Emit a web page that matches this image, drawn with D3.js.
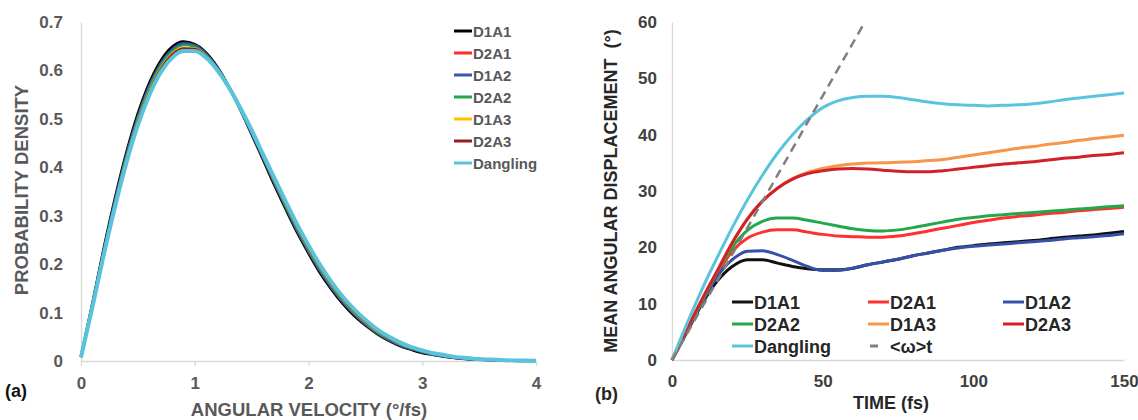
<!DOCTYPE html>
<html>
<head>
<meta charset="utf-8">
<script src="https://cdn.jsdelivr.net/npm/d3@7"></script>
<style>
  html, body { margin: 0; padding: 0; background: #fff; }
  svg { display: block; font-family: Arial, "Liberation Sans", sans-serif; }
</style>
</head>
<body>
<svg id="chart" width="1138" height="420"></svg>
<script>
// ---------- data: panel (a) ----------
var velocity = [0,0.1,0.2,0.3,0.4,0.5,0.6,0.7,0.8,0.9,1,1.1,1.2,1.3,1.4,1.5,1.6,1.7,1.8,1.9,2,
  2.1,2.2,2.3,2.4,2.5,2.6,2.7,2.8,2.9,3,3.1,3.2,3.3,3.4,3.5,3.6,3.7,3.8,3.9,4];

var pd_D1A1 = [0.008,0.117,0.231,0.336,0.430,0.510,0.573,0.619,0.648,0.659,0.654,0.636,0.606,0.566,0.520,0.469,0.417,0.364,0.314,0.266,0.223,
  0.183,0.149,0.119,0.094,0.074,0.057,0.043,0.032,0.024,0.017,0.013,0.009,0.006,0.004,0.003,0.002,0.001,0.001,0.0005,0.0003];
var pd_D2A1 = [0.008,0.116,0.228,0.331,0.424,0.503,0.566,0.612,0.641,0.654,0.651,0.633,0.605,0.566,0.521,0.471,0.420,0.369,0.319,0.271,0.228,
  0.188,0.154,0.124,0.098,0.077,0.059,0.045,0.034,0.025,0.019,0.014,0.010,0.007,0.005,0.003,0.002,0.001,0.001,0.0005,0.0003];
var pd_D1A2 = [0.008,0.116,0.229,0.333,0.426,0.505,0.568,0.614,0.643,0.656,0.652,0.634,0.605,0.566,0.520,0.470,0.419,0.367,0.317,0.269,0.226,
  0.186,0.152,0.122,0.097,0.076,0.058,0.044,0.033,0.025,0.018,0.013,0.009,0.006,0.004,0.003,0.002,0.001,0.001,0.0005,0.0003];
var pd_D2A2 = [0.008,0.115,0.226,0.329,0.422,0.500,0.563,0.610,0.639,0.652,0.649,0.632,0.604,0.566,0.521,0.472,0.421,0.370,0.320,0.273,0.229,
  0.190,0.155,0.125,0.099,0.078,0.060,0.046,0.035,0.026,0.019,0.014,0.010,0.007,0.005,0.003,0.002,0.001,0.001,0.0005,0.0003];
var pd_D1A3 = [0.008,0.114,0.224,0.326,0.418,0.496,0.558,0.605,0.635,0.647,0.646,0.630,0.603,0.566,0.522,0.474,0.423,0.372,0.323,0.276,0.232,
  0.193,0.158,0.128,0.102,0.080,0.062,0.048,0.036,0.027,0.020,0.015,0.011,0.007,0.005,0.003,0.002,0.001,0.001,0.0005,0.0003];
var pd_D2A3 = [0.008,0.114,0.223,0.325,0.416,0.494,0.556,0.603,0.633,0.646,0.645,0.629,0.602,0.565,0.522,0.474,0.424,0.373,0.324,0.277,0.233,
  0.194,0.159,0.129,0.103,0.081,0.063,0.048,0.037,0.027,0.020,0.015,0.011,0.007,0.005,0.003,0.002,0.001,0.001,0.0005,0.0003];
var pd_Dangling = [0.008,0.111,0.219,0.319,0.410,0.487,0.549,0.596,0.626,0.640,0.640,0.626,0.600,0.565,0.523,0.477,0.427,0.378,0.329,0.282,0.239,
  0.199,0.164,0.133,0.107,0.085,0.066,0.051,0.039,0.029,0.022,0.016,0.012,0.008,0.006,0.004,0.003,0.002,0.001,0.001,0.0005];

var pdTicks = [0,0.1,0.2,0.3,0.4,0.5,0.6,0.7];
var pdTickLabels = ["0","0.1","0.2","0.3","0.4","0.5","0.6","0.7"];
var velTicks = [0,1,2,3,4];

// ---------- data: panel (b) ----------
var time = [0,5,10,15,20,25,30,35,40,45,50,55,60,65,70,75,80,85,90,95,100,105,110,115,120,125,130,135,140,145,150];

var ad_D1A1 = [0,5.0,10.0,14.0,16.6,17.8,17.8,17.2,16.6,16.2,16.0,16.0,16.3,16.9,17.4,17.9,18.5,19.0,19.5,20.0,20.3,20.6,20.8,21.0,21.2,21.5,21.8,22.0,22.2,22.5,22.8];
var ad_D2A1 = [0,5.2,10.4,15.3,19.3,21.6,22.7,23.1,23.1,22.7,22.3,22.0,21.9,21.8,21.8,22.0,22.4,22.9,23.4,23.9,24.4,24.8,25.2,25.5,25.7,26.0,26.2,26.5,26.7,26.9,27.1];
var ad_D1A2 = [0,5.1,10.2,14.8,17.8,19.3,19.4,18.7,17.7,16.6,15.9,15.9,16.3,16.9,17.4,17.9,18.5,19.0,19.5,19.9,20.2,20.4,20.6,20.8,21.0,21.2,21.5,21.7,21.9,22.1,22.4];
var ad_D2A2 = [0,5.3,10.5,15.6,20.0,23.0,24.6,25.2,25.2,24.8,24.3,23.8,23.3,23.0,22.9,23.1,23.5,24.0,24.5,25.0,25.3,25.6,25.8,26.0,26.2,26.4,26.6,26.8,27.0,27.2,27.4];
var ad_D1A3 = [0,5.5,10.8,15.8,20.8,25.0,28.2,30.5,32.2,33.3,34.0,34.5,34.8,34.95,35.0,35.1,35.2,35.4,35.6,36.0,36.4,36.8,37.2,37.6,37.9,38.3,38.6,39.0,39.3,39.6,39.9];
var ad_D2A3 = [0,5.5,10.8,15.8,20.8,25.0,28.2,30.5,32.1,33.1,33.6,33.9,34.0,33.9,33.7,33.5,33.4,33.4,33.6,33.9,34.2,34.5,34.8,35.0,35.2,35.5,35.8,36.0,36.3,36.5,36.8];
var ad_Dangling = [0,6.5,12.6,18.2,23.5,28.4,32.8,36.7,40.0,42.7,44.8,46.0,46.6,46.8,46.8,46.6,46.2,45.8,45.5,45.3,45.2,45.1,45.2,45.3,45.5,45.8,46.2,46.5,46.8,47.1,47.4];
var omegaT_time = [0,64];
var omegaT_value = [0,60];

var adTicks = [0,10,20,30,40,50,60];
var timeTicks = [0,50,100,150];

var svg = d3.select("#chart");

// ================= panel (a) =================
var xA = d3.scaleLinear().domain([0,4]).range([81,536]);
var yA = d3.scaleLinear().domain([0,0.7]).range([361,22]);

var gridGray = "#d9d9d9";
var labelGray = "#595959";

var yAxisA = svg.append("g")
  .attr("transform", "translate(" + xA(0) + ",0)")
  .call(d3.axisLeft(yA).tickValues(pdTicks).tickFormat(function(d, i) { return pdTickLabels[i]; })
    .tickSize(0).tickPadding(18));
yAxisA.select(".domain").attr("stroke", gridGray).attr("stroke-width", 1.3);
yAxisA.selectAll("text").attr("fill", labelGray).style("font-size", "17px").style("font-weight", "bold");

var xAxisA = svg.append("g")
  .attr("transform", "translate(0," + yA(0) + ")")
  .call(d3.axisBottom(xA).tickValues(velTicks).tickFormat(d3.format("d"))
    .tickSizeInner(5).tickSizeOuter(0).tickPadding(11));
xAxisA.select(".domain").attr("stroke", gridGray).attr("stroke-width", 1.3);
xAxisA.selectAll(".tick line").attr("stroke", gridGray).attr("stroke-width", 1.3);
xAxisA.selectAll("text").attr("fill", labelGray).style("font-size", "17px").style("font-weight", "bold");

var seriesA = [
  {name: "D1A1", values: pd_D1A1, color: "#000000", width: 3},
  {name: "D2A1", values: pd_D2A1, color: "#ff2b2b", width: 2},
  {name: "D1A2", values: pd_D1A2, color: "#3a56a8", width: 2.5},
  {name: "D2A2", values: pd_D2A2, color: "#1ea84a", width: 2},
  {name: "D1A3", values: pd_D1A3, color: "#ffc000", width: 2},
  {name: "D2A3", values: pd_D2A3, color: "#9b1c1f", width: 2},
  {name: "Dangling", values: pd_Dangling, color: "#57c3dd", width: 4}
];

var lineA = d3.line()
  .x(function(d, i) { return xA(velocity[i]); })
  .y(function(d) { return yA(d); })
  .curve(d3.curveMonotoneX);

svg.append("g").selectAll("path")
  .data(seriesA)
  .enter().append("path")
    .attr("fill", "none")
    .attr("stroke", function(d) { return d.color; })
    .attr("stroke-width", function(d) { return d.width; })
    .attr("stroke-linejoin", "round")
    .attr("d", function(d) { return lineA(d.values); });

// legend (a)
var legA = svg.append("g").selectAll("g")
  .data(seriesA)
  .enter().append("g")
    .attr("transform", function(d, i) { return "translate(454," + (31 + i * 22) + ")"; });
legA.append("line")
  .attr("x1", 0).attr("x2", 18)
  .attr("stroke", function(d) { return d.color; })
  .attr("stroke-width", 3);
legA.append("text")
  .attr("x", 19).attr("y", 5.5)
  .attr("fill", labelGray)
  .style("font-size", "15px").style("font-weight", "bold")
  .text(function(d) { return d.name; });

// titles (a)
svg.append("text")
  .attr("x", 309).attr("y", 416)
  .attr("text-anchor", "middle")
  .attr("fill", labelGray)
  .style("font-size", "18.5px").style("font-weight", "bold")
  .text("ANGULAR VELOCITY (°/fs)");
svg.append("text")
  .attr("transform", "translate(28,190) rotate(-90)")
  .attr("text-anchor", "middle")
  .attr("fill", labelGray)
  .style("font-size", "18.5px").style("font-weight", "bold")
  .text("PROBABILITY DENSITY");
svg.append("text")
  .attr("x", 5).attr("y", 397)
  .attr("fill", "#111")
  .style("font-size", "18px").style("font-weight", "bold")
  .text("(a)");

// ================= panel (b) =================
var xB = d3.scaleLinear().domain([0,150]).range([672,1124]);
var yB = d3.scaleLinear().domain([0,60]).range([360,22]);
var darkGray = "#404040";

var yAxisB = svg.append("g")
  .attr("transform", "translate(" + xB(0) + ",0)")
  .call(d3.axisLeft(yB).tickValues(adTicks).tickFormat(d3.format("d"))
    .tickSize(0).tickPadding(15));
yAxisB.select(".domain").attr("stroke", gridGray).attr("stroke-width", 1.3);
yAxisB.selectAll("text").attr("fill", darkGray).style("font-size", "17px").style("font-weight", "bold");

var xAxisB = svg.append("g")
  .attr("transform", "translate(0," + yB(0) + ")")
  .call(d3.axisBottom(xB).tickValues(timeTicks).tickFormat(d3.format("d"))
    .tickSize(0).tickPadding(15));
xAxisB.select(".domain").attr("stroke", gridGray).attr("stroke-width", 1.3);
xAxisB.selectAll("text").attr("fill", darkGray).style("font-size", "17px").style("font-weight", "bold");

var seriesB = [
  {name: "D1A1", values: ad_D1A1, color: "#111111"},
  {name: "D2A1", values: ad_D2A1, color: "#ff3030"},
  {name: "D1A2", values: ad_D1A2, color: "#3550a8"},
  {name: "D2A2", values: ad_D2A2, color: "#22a84b"},
  {name: "D1A3", values: ad_D1A3, color: "#f7964a"},
  {name: "D2A3", values: ad_D2A3, color: "#d2202a"},
  {name: "Dangling", values: ad_Dangling, color: "#5bc4dd"}
];

var lineB = d3.line()
  .x(function(d, i) { return xB(time[i]); })
  .y(function(d) { return yB(d); })
  .curve(d3.curveMonotoneX);

svg.append("g").selectAll("path")
  .data(seriesB)
  .enter().append("path")
    .attr("fill", "none")
    .attr("stroke", function(d) { return d.color; })
    .attr("stroke-width", 3)
    .attr("stroke-linejoin", "round")
    .attr("d", function(d) { return lineB(d.values); });

// <w>t dashed line
svg.append("path")
  .attr("fill", "none")
  .attr("stroke", "#7f7f7f")
  .attr("stroke-width", 2.5)
  .attr("stroke-dasharray", "9,6")
  .attr("d", d3.line()
    .x(function(d, i) { return xB(omegaT_time[i]); })
    .y(function(d) { return yB(d); })(omegaT_value));

// legend (b)
var legBItems = seriesB.concat([{name: "<ω>t", color: "#7f7f7f", dashed: true}]);
var legColX = [732, 868, 1003];
var legRowY = [302, 324, 346];
var legB = svg.append("g").selectAll("g")
  .data(legBItems)
  .enter().append("g")
    .attr("transform", function(d, i) { return "translate(" + legColX[i % 3] + "," + legRowY[Math.floor(i / 3)] + ")"; });
legB.append("line")
  .attr("x1", function(d) { return d.dashed ? 2 : 0; })
  .attr("x2", function(d) { return d.dashed ? 10 : 21; })
  .attr("stroke", function(d) { return d.color; })
  .attr("stroke-width", 3);
legB.append("text")
  .attr("x", 22)
  .attr("y", 6.5)
  .attr("fill", "#262626")
  .style("font-size", "18px").style("font-weight", "bold")
  .text(function(d) { return d.name; });

// titles (b)
svg.append("text")
  .attr("x", 891).attr("y", 409)
  .attr("text-anchor", "middle")
  .attr("fill", "#262626")
  .style("font-size", "18px").style("font-weight", "bold")
  .text("TIME (fs)");
svg.append("text")
  .attr("transform", "translate(617,191) rotate(-90)")
  .attr("text-anchor", "middle")
  .attr("fill", "#262626")
  .style("font-size", "18px").style("font-weight", "bold")
  .style("white-space", "pre")
  .attr("xml:space", "preserve")
  .text("MEAN ANGULAR DISPLACEMENT  (°)");
svg.append("text")
  .attr("x", 595).attr("y", 400)
  .attr("fill", "#262626")
  .style("font-size", "18px").style("font-weight", "bold")
  .text("(b)");
</script>
</body>
</html>
